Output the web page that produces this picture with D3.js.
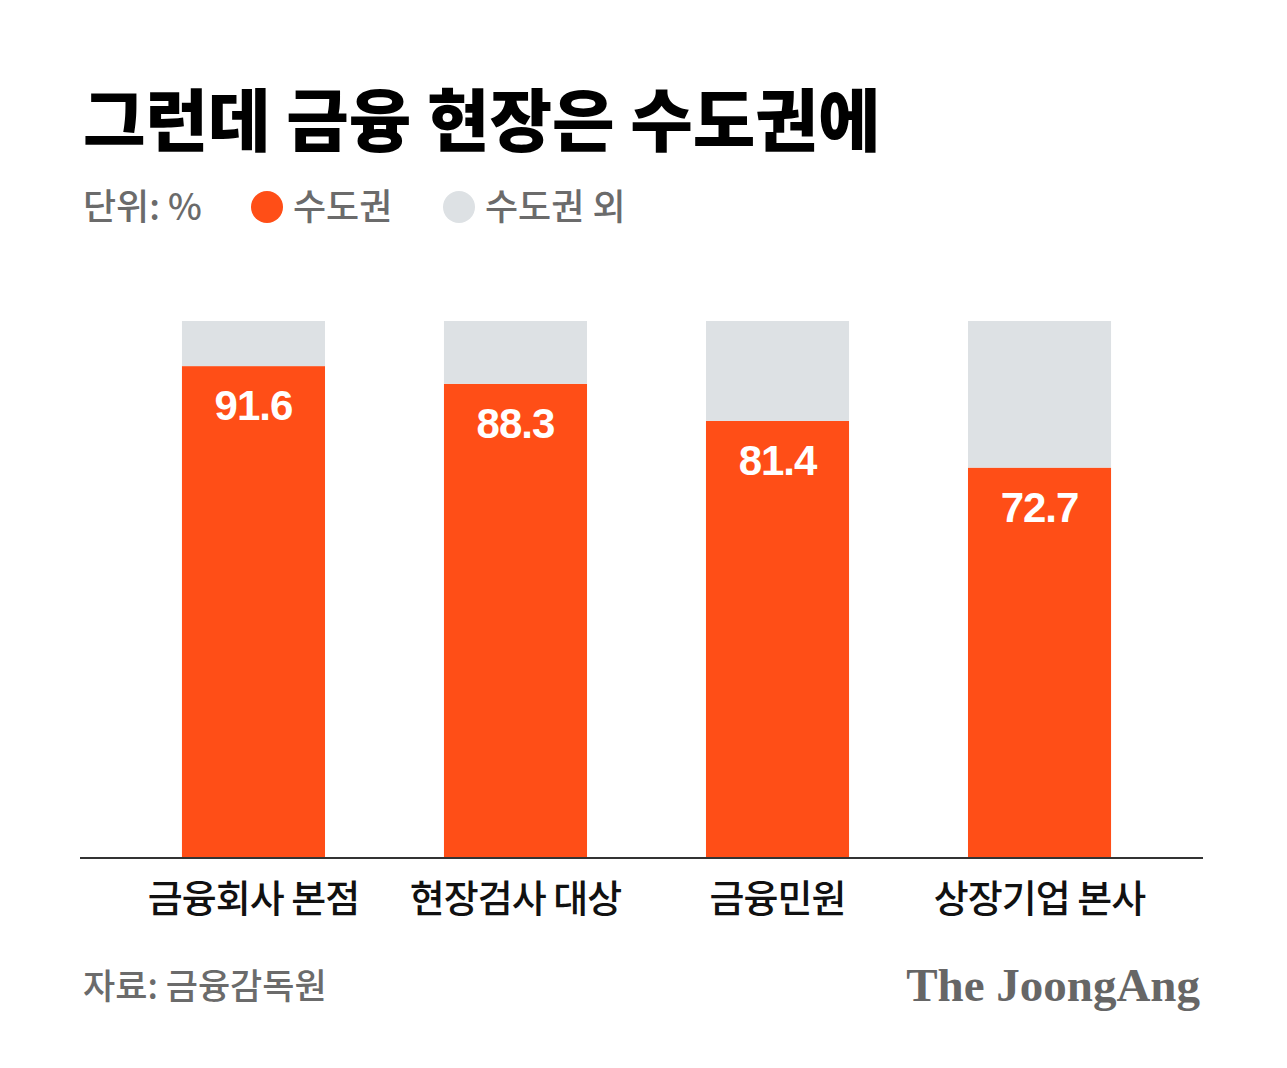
<!DOCTYPE html>
<html>
<head>
<meta charset="utf-8">
<script src="https://cdn.jsdelivr.net/npm/d3@7"></script>
<style>
  body { margin: 0; background: #fff; }
  svg { display: block; }
</style>
</head>
<body>
<div id="chart"></div>
<script>
// data
const categories = ["금융회사 본점", "현장검사 대상", "금융민원", "상장기업 본사"];
const capitalArea = [91.6, 88.3, 81.4, 72.7];   // 수도권
const otherArea = capitalArea.map(v => +(100 - v).toFixed(1)); // 수도권 외
const seriesNames = ["수도권", "수도권 외"];
const colors = ["#ff4e17", "#dde1e4"];

const width = 1287, height = 1068;
const kr = "'Noto Sans CJK KR', 'Noto Sans', sans-serif";

const svg = d3.select("#chart").append("svg")
    .attr("width", width)
    .attr("height", height);

// title
svg.append("text")
    .attr("x", 83)
    .attr("y", 146)
    .style("font-family", kr)
    .style("font-weight", 900)
    .style("font-size", "68px")
    .style("fill", "#000")
    .text("그런데 금융 현장은 수도권에");

// legend
let legend = svg.append("g").attr("transform", "translate(0,220)");
legend.append("text")
    .attr("x", 83)
    .style("font-family", kr)
    .style("font-weight", 500)
    .style("font-size", "36px")
    .style("fill", "#6b6b6b")
    .text("단위: %");

const legendX = [267, 459];
seriesNames.forEach((name, i) => {
    legend.append("circle")
        .attr("cx", legendX[i])
        .attr("cy", -13)
        .attr("r", 16)
        .style("fill", colors[i]);
    legend.append("text")
        .attr("x", legendX[i] + 26)
        .style("font-family", kr)
        .style("font-weight", 500)
        .style("font-size", "36px")
        .style("fill", "#6b6b6b")
        .text(name);
});

// scales
const x = d3.scaleBand()
    .domain(categories)
    .range([63, 1230])
    .padding(0.454);

const y = d3.scaleLinear()
    .domain([0, 100])
    .range([858, 321]);

const rows = categories.map((c, i) => ({cat: c, a: capitalArea[i], b: otherArea[i]}));
const stack = d3.stack().keys(["a", "b"])(rows);

svg.selectAll("g.layer")
    .data(stack)
    .enter()
    .append("g")
    .attr("class", "layer")
    .style("fill", (d, i) => colors[i])
    .selectAll("rect")
    .data(d => d)
    .enter()
    .append("rect")
    .attr("x", d => x(d.data.cat))
    .attr("width", x.bandwidth())
    .attr("y", d => y(d[1]))
    .attr("height", d => y(d[0]) - y(d[1]));

// value labels
svg.selectAll("text.value")
    .data(rows)
    .enter()
    .append("text")
    .attr("class", "value")
    .attr("x", d => x(d.cat) + x.bandwidth() / 2)
    .attr("y", d => y(d.a) + 54)
    .attr("text-anchor", "middle")
    .style("font-family", "'Liberation Sans', Arial, sans-serif")
    .style("font-weight", "bold")
    .style("font-size", "42px")
    .style("letter-spacing", "-1px")
    .style("fill", "#fff")
    .text(d => d.a.toFixed(1));

// baseline
svg.append("line")
    .attr("x1", 80)
    .attr("x2", 1203)
    .attr("y1", y(0))
    .attr("y2", y(0))
    .style("stroke", "#333")
    .style("stroke-width", 2);

// category labels
svg.selectAll("text.cat")
    .data(categories)
    .enter()
    .append("text")
    .attr("class", "cat")
    .attr("x", d => x(d) + x.bandwidth() / 2)
    .attr("y", 912)
    .attr("text-anchor", "middle")
    .style("font-family", kr)
    .style("font-weight", 500)
    .style("font-size", "38px")
    .style("letter-spacing", "-1px")
    .style("fill", "#111")
    .text(d => d);

// source
svg.append("text")
    .attr("x", 83)
    .attr("y", 999)
    .style("font-family", kr)
    .style("font-weight", 500)
    .style("font-size", "35px")
    .style("fill", "#6b6b6b")
    .text("자료: 금융감독원");

// logo
svg.append("text")
    .attr("x", 1200)
    .attr("y", 1001)
    .attr("text-anchor", "end")
    .style("font-family", "'Liberation Serif', 'DejaVu Serif', serif")
    .style("font-weight", "bold")
    .style("font-size", "47px")
    .style("fill", "#666")
    .text("The JoongAng");
</script>
</body>
</html>
